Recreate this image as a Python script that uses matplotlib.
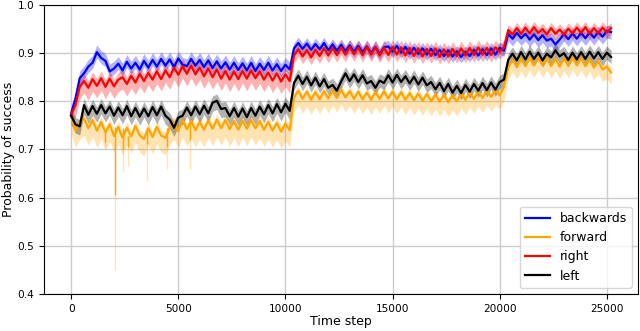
import numpy as np
import matplotlib
matplotlib.use("Agg")
import matplotlib.pyplot as plt

# time grid of the sampled curves (every 200 steps)
time_step = np.arange(0, 25201, 200)

# values, one per grid step
backwards = [
    0.775, 0.805, 0.848, 0.858, 0.872, 0.880, 0.902, 0.890, 0.884, 0.862,
    0.868, 0.878, 0.864, 0.882, 0.868, 0.880, 0.866, 0.884, 0.870, 0.886,
    0.872, 0.888, 0.874, 0.887, 0.871, 0.889, 0.876, 0.873, 0.888, 0.874,
    0.886, 0.871, 0.885, 0.869, 0.883, 0.868, 0.881, 0.866, 0.880, 0.865,
    0.879, 0.864, 0.880, 0.863, 0.878, 0.865, 0.880, 0.864, 0.877, 0.863,
    0.876, 0.866,
    0.910, 0.921, 0.909, 0.920, 0.907, 0.919, 0.908, 0.921, 0.906, 0.918,
    0.905, 0.917, 0.904, 0.916, 0.903, 0.915, 0.902, 0.914, 0.900, 0.913,
    0.898, 0.912, 0.914, 0.903, 0.915, 0.901, 0.913, 0.899, 0.911, 0.898,
    0.910, 0.897, 0.909, 0.896, 0.907, 0.894, 0.906, 0.893, 0.904, 0.892,
    0.903, 0.894, 0.907, 0.895, 0.908, 0.896, 0.910, 0.897, 0.911, 0.905,
    0.940, 0.930, 0.942, 0.931, 0.940, 0.928, 0.939, 0.927, 0.937, 0.926,
    0.930, 0.918, 0.928, 0.940, 0.929, 0.941, 0.930, 0.942, 0.931, 0.943,
    0.932, 0.944, 0.934, 0.946, 0.944,
]
forward = [
    0.768, 0.740, 0.756, 0.764, 0.744, 0.761, 0.739, 0.757, 0.735, 0.752,
    0.728, 0.747, 0.724, 0.745, 0.727, 0.749, 0.729, 0.722, 0.744, 0.726,
    0.747, 0.729, 0.724, 0.745, 0.756, 0.738, 0.761, 0.742, 0.759, 0.740,
    0.757, 0.741, 0.760, 0.743, 0.762, 0.744, 0.761, 0.742, 0.759, 0.741,
    0.760, 0.743, 0.761, 0.744, 0.759, 0.741, 0.757, 0.739, 0.755, 0.737,
    0.753, 0.740,
    0.808, 0.822, 0.805, 0.820, 0.803, 0.819, 0.804, 0.821, 0.806, 0.822,
    0.807, 0.824, 0.808, 0.821, 0.805, 0.820, 0.804, 0.818, 0.803, 0.819,
    0.805, 0.821, 0.806, 0.820, 0.804, 0.819, 0.803, 0.817, 0.802, 0.816,
    0.801, 0.815, 0.800, 0.814, 0.799, 0.813, 0.798, 0.812, 0.800, 0.816,
    0.803, 0.818, 0.805, 0.820, 0.807, 0.822, 0.809, 0.824, 0.812, 0.830,
    0.870, 0.886, 0.871, 0.888, 0.873, 0.890, 0.874, 0.891, 0.875, 0.889,
    0.873, 0.888, 0.872, 0.889, 0.874, 0.891, 0.875, 0.890, 0.873, 0.887,
    0.870, 0.883, 0.866, 0.872, 0.860,
]
right = [
    0.772, 0.792, 0.830, 0.842, 0.828, 0.846, 0.832, 0.848, 0.830, 0.847,
    0.831, 0.845, 0.850, 0.836, 0.853, 0.839, 0.857, 0.842, 0.859, 0.845,
    0.862, 0.846, 0.864, 0.850, 0.870, 0.855, 0.873, 0.857, 0.874, 0.856,
    0.870, 0.852, 0.868, 0.850, 0.866, 0.847, 0.863, 0.845, 0.862, 0.846,
    0.863, 0.847, 0.864, 0.848, 0.862, 0.845, 0.860, 0.843, 0.858, 0.841,
    0.856, 0.842,
    0.895, 0.908, 0.893, 0.906, 0.891, 0.907, 0.894, 0.910, 0.895, 0.911,
    0.896, 0.912, 0.897, 0.913, 0.898, 0.912, 0.896, 0.913, 0.897, 0.912,
    0.895, 0.911, 0.896, 0.913, 0.897, 0.912, 0.895, 0.911, 0.894, 0.910,
    0.893, 0.909, 0.894, 0.910, 0.892, 0.908, 0.893, 0.909, 0.894, 0.910,
    0.895, 0.911, 0.896, 0.912, 0.897, 0.911, 0.896, 0.912, 0.903, 0.912,
    0.948, 0.939, 0.952, 0.940, 0.953, 0.941, 0.954, 0.942, 0.950, 0.939,
    0.952, 0.940, 0.949, 0.938, 0.951, 0.941, 0.953, 0.942, 0.954, 0.940,
    0.952, 0.941, 0.953, 0.943, 0.952,
]
left = [
    0.770, 0.752, 0.748, 0.792, 0.772, 0.790, 0.774, 0.792, 0.775, 0.789,
    0.770, 0.787, 0.771, 0.790, 0.769, 0.786, 0.768, 0.785, 0.769, 0.788,
    0.771, 0.789, 0.770, 0.762, 0.745, 0.766, 0.770, 0.787, 0.771, 0.789,
    0.773, 0.791, 0.775, 0.797, 0.801, 0.784, 0.786, 0.769, 0.786, 0.768,
    0.785, 0.767, 0.786, 0.770, 0.789, 0.773, 0.792, 0.775, 0.794, 0.777,
    0.795, 0.780,
    0.838, 0.853, 0.836, 0.851, 0.833, 0.849, 0.831, 0.846, 0.828, 0.834,
    0.822, 0.841, 0.858, 0.842, 0.856, 0.840, 0.854, 0.837, 0.842, 0.828,
    0.843, 0.838, 0.854, 0.839, 0.855, 0.840, 0.852, 0.837, 0.851, 0.835,
    0.849, 0.833, 0.840, 0.825, 0.838, 0.821, 0.836, 0.818, 0.832, 0.817,
    0.834, 0.820, 0.836, 0.822, 0.838, 0.823, 0.839, 0.824, 0.840, 0.845,
    0.886, 0.899, 0.885, 0.902, 0.887, 0.903, 0.888, 0.901, 0.885, 0.899,
    0.891, 0.906, 0.893, 0.900, 0.886, 0.901, 0.887, 0.902, 0.888, 0.903,
    0.889, 0.902, 0.888, 0.901, 0.892,
]

# band below / above each curve, per training phase
phase_edges = [10300, 20300]
band_low = {"backwards": [0.012, 0.012, 0.015], "forward": [0.035, 0.030, 0.025],
            "right": [0.025, 0.015, 0.012], "left": [0.018, 0.014, 0.014]}
band_high = {"backwards": [0.015, 0.012, 0.012], "forward": [0.012, 0.010, 0.010],
             "right": [0.015, 0.015, 0.012], "left": [0.014, 0.014, 0.014]}

# sharp downward spikes of the forward curve
forward_spike_t = [1590, 2050, 2430, 2650, 3550, 4450, 5550]
forward_spike_line = [0.715, 0.605, 0.700, 0.705, 0.712, 0.705, 0.720]
forward_spike_band = [0.700, 0.450, 0.655, 0.665, 0.635, 0.660, 0.660]

series = [("backwards", backwards, "blue"), ("forward", forward, "orange"),
          ("right", right, "red"), ("left", left, "black")]

fig, ax = plt.subplots(figsize=(6.4, 3.31), dpi=100)
fig.subplots_adjust(left=0.069, right=0.997, bottom=0.112, top=0.985)

phase = np.digitize(time_step, phase_edges)
for name, vals, col in series:
    vals = np.array(vals)
    lo = vals - np.array(band_low[name])[phase]
    hi = vals + np.array(band_high[name])[phase]
    ax.fill_between(time_step, lo, hi, color=col, alpha=0.3, lw=0)
    if name == "forward":
        idx = np.searchsorted(time_step, forward_spike_t)
        top = vals[idx]
        ax.vlines(forward_spike_t, forward_spike_band, top, color=col,
                  alpha=0.3, lw=1)
        ax.vlines(forward_spike_t, forward_spike_line, top, color=col, lw=1)
    ax.plot(time_step, vals, color=col, lw=1.6, label=name)

ax.set_ylim(0.4, 1.0)
ax.grid(color="#cccccc", lw=1)
ax.set_axisbelow(True)
ax.tick_params(labelsize=7.6)
ax.set_xlabel("Time step", fontsize=9, labelpad=1)
ax.set_ylabel("Probability of success", fontsize=9, labelpad=2)
ax.legend(loc="lower right", fontsize=9)

fig.savefig("out.png")
